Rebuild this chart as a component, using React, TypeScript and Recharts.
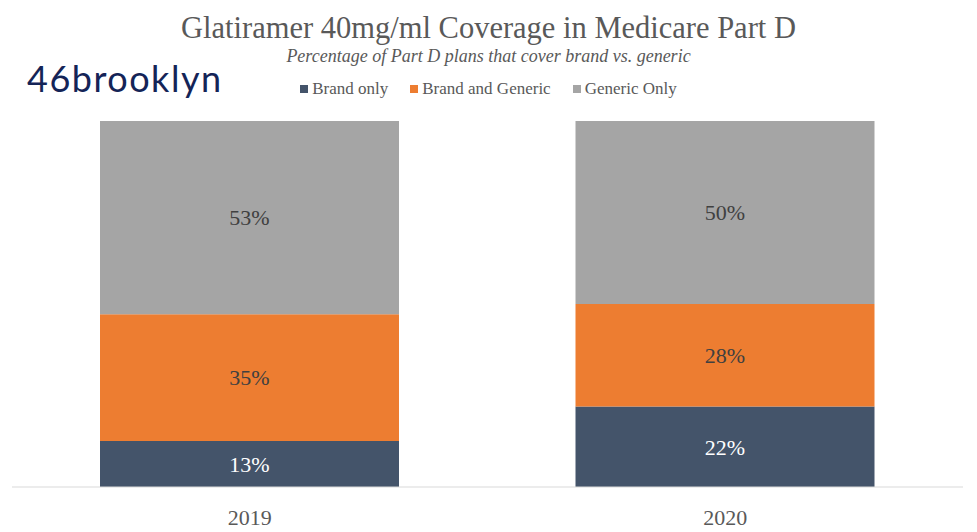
import React from 'react';
import { BarChart, Bar, XAxis, YAxis, LabelList } from 'recharts';

const years = ['2019', '2020'];
const brandOnly = [12.6, 22];
const brandAndGeneric = [34.6, 28];
const genericOnly = [52.8, 50];

const data = years.map((year, i) => ({
  year,
  brand: brandOnly[i],
  both: brandAndGeneric[i],
  generic: genericOnly[i],
}));

const serif = '"Liberation Serif", "Times New Roman", serif';

const series = [
  { key: 'brand', name: 'Brand only', color: '#44546a', label: '#ffffff' },
  { key: 'both', name: 'Brand and Generic', color: '#ed7d31', label: '#404040' },
  { key: 'generic', name: 'Generic Only', color: '#a5a5a5', label: '#404040' },
];

const App = () => {
  return (
    <div style={{ position: 'absolute', left: 0, top: 0, width: 977, height: 532, background: '#fff' }}>
      <div
        style={{
          position: 'absolute',
          top: 11,
          width: 977,
          textAlign: 'center',
          fontFamily: serif,
          fontSize: 30.5,
          color: '#595959',
        }}
      >
        Glatiramer 40mg/ml Coverage in Medicare Part D
      </div>
      <div
        style={{
          position: 'absolute',
          top: 46,
          width: 977,
          textAlign: 'center',
          fontFamily: serif,
          fontStyle: 'italic',
          fontSize: 18,
          color: '#595959',
        }}
      >
        Percentage of Part D plans that cover brand vs. generic
      </div>
      <div
        style={{
          position: 'absolute',
          top: 56,
          left: 27,
          fontFamily: 'Lato, sans-serif',
          fontSize: 36,
          letterSpacing: 1.5,
          color: '#142457',
        }}
      >
        46brooklyn
      </div>
      <div
        style={{
          position: 'absolute',
          top: 79,
          width: 977,
          display: 'flex',
          justifyContent: 'center',
          fontFamily: serif,
          fontSize: 17,
          color: '#595959',
        }}
      >
        {series.map((s) => (
          <div key={s.key} style={{ display: 'flex', alignItems: 'center', margin: '0 11px' }}>
            <span style={{ width: 8, height: 8, background: s.color, marginRight: 4, display: 'inline-block' }} />
            <span>{s.name}</span>
          </div>
        ))}
      </div>
      <BarChart
        width={977}
        height={532}
        data={data}
        margin={{ top: 121, right: 14, left: 12, bottom: 15 }}
        barSize={299}
      >
        <XAxis
          dataKey="year"
          height={30}
          tickLine={false}
          tickMargin={16}
          axisLine={{ stroke: '#d9d9d9' }}
          tick={{ fill: '#595959', fontSize: 22, fontFamily: serif }}
        />
        <YAxis hide domain={[0, 100]} />
        {series.map((s) => (
          <Bar key={s.key} dataKey={s.key} name={s.name} stackId="a" fill={s.color} isAnimationActive={false}>
            <LabelList
              dataKey={s.key}
              position="center"
              formatter={(v: number) => `${Math.round(v)}%`}
              fill={s.label}
              fontSize={22}
              fontFamily={serif}
            />
          </Bar>
        ))}
      </BarChart>
    </div>
  );
};

export default App;
